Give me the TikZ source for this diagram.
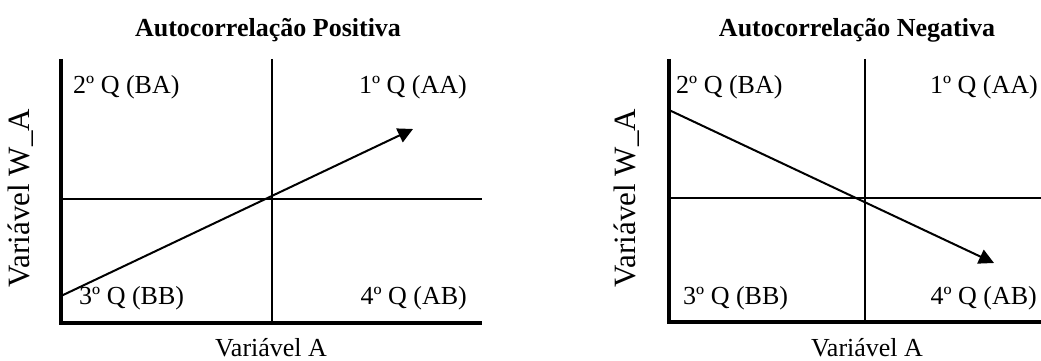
\documentclass[tikz,border=0pt]{standalone}
\usepackage{fontspec}
\setmainfont{Liberation Serif}
\usetikzlibrary{arrows.meta}
\begin{document}
\begin{tikzpicture}[x=1pt,y=-1pt,
  lbl/.style={font=\fontsize{26}{30}\selectfont, inner sep=0pt},
  ttl/.style={font=\fontsize{26}{30}\selectfont\bfseries, inner sep=0pt, anchor=base},
  ylbl/.style={font=\fontsize{31}{36}\selectfont, inner sep=0pt, rotate=90},
  axis/.style={line width=4pt},
  thin/.style={line width=2pt},
  arr/.style={line width=2pt, -{Triangle[length=15pt,width=15pt]}}]
\useasboundingbox (0,0) rectangle (1041,361);
% ---------- Left panel ----------
\coordinate (LT) at (61,59);
\coordinate (LO) at (61,323);
\coordinate (LR) at (482,323);
\coordinate (LMt) at (272,59);
\coordinate (LMb) at (272,323);
\coordinate (LMl) at (61,199);
\coordinate (LMr) at (482,199);
\coordinate (LA1) at (61,296);
\coordinate (LA2) at (413,129);
\draw[thin] (LMt) -- (LMb);
\draw[thin] (LMl) -- (LMr);
\draw[axis] (LT) -- (LO) -- (LR);
\draw[arr] (LA1) -- (LA2);
\node[ttl] (t1) at (268,37) {Autocorrelação Positiva};
\node[lbl, anchor=base west] (q2l) at (73,93) {2º Q (BA)};
\node[lbl, anchor=base east] (q1l) at (467,93) {1º Q (AA)};
\node[lbl, anchor=base west] (q3l) at (79,304) {3º Q (BB)};
\node[lbl, anchor=base east] (q4l) at (467,304) {4º Q (AB)};
\node[lbl, anchor=base] (xl) at (271,356) {Variável A};
\node[ylbl] (yl) at (21,198) {Variável W\_A};
% ---------- Right panel ----------
\coordinate (RT) at (669,59);
\coordinate (RO) at (669,322);
\coordinate (RR) at (1041,322);
\coordinate (RMt) at (865,59);
\coordinate (RMb) at (865,322);
\coordinate (RMl) at (669,198);
\coordinate (RMr) at (1041,198);
\coordinate (RA1) at (669,110);
\coordinate (RA2) at (994,263);
\draw[thin] (RMt) -- (RMb);
\draw[thin] (RMl) -- (RMr);
\draw[axis] (RT) -- (RO) -- (RR);
\draw[arr] (RA1) -- (RA2);
\node[ttl] (t2) at (857,37) {Autocorrelação Negativa};
\node[lbl, anchor=base west] (q2r) at (676,93) {2º Q (BA)};
\node[lbl, anchor=base east] (q1r) at (1038,93) {1º Q (AA)};
\node[lbl, anchor=base west] (q3r) at (683,304) {3º Q (BB)};
\node[lbl, anchor=base east] (q4r) at (1037,304) {4º Q (AB)};
\node[lbl, anchor=base] (xr) at (867,356) {Variável A};
\node[ylbl] (yr) at (627,198) {Variável W\_A};
\end{tikzpicture}
\end{document}
